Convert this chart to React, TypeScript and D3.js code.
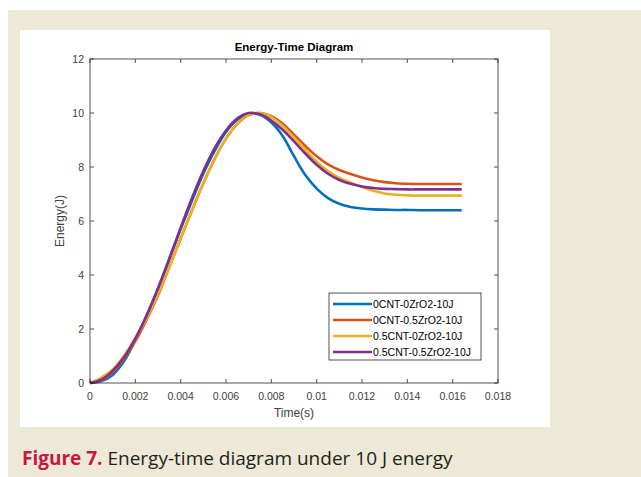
import React from 'react';
import * as d3 from 'd3';

// time samples (s)
const times = [0, 0.0005, 0.001, 0.0015, 0.002, 0.0025, 0.003, 0.0035, 0.004, 0.0045, 0.005, 0.0055, 0.006, 0.0065, 0.007, 0.0075, 0.008, 0.0085, 0.009, 0.0095, 0.01, 0.0105, 0.011, 0.0115, 0.012, 0.0125, 0.013, 0.0135, 0.014, 0.0145, 0.015, 0.0155, 0.016, 0.0164];

const blue = [0, 0.07, 0.3, 0.8, 1.6, 2.5, 3.5, 4.6, 5.7, 6.75, 7.75, 8.6, 9.3, 9.75, 9.98, 9.93, 9.65, 9.15, 8.4, 7.7, 7.2, 6.85, 6.64, 6.52, 6.46, 6.43, 6.42, 6.41, 6.41, 6.4, 6.4, 6.4, 6.4, 6.4];
const orange = [0, 0.1, 0.4, 0.9, 1.55, 2.35, 3.25, 4.3, 5.35, 6.4, 7.4, 8.3, 9.05, 9.6, 9.92, 10.0, 9.88, 9.6, 9.2, 8.78, 8.4, 8.1, 7.89, 7.74, 7.61, 7.51, 7.44, 7.4, 7.38, 7.37, 7.37, 7.37, 7.37, 7.37];
const yellow = [0, 0.2, 0.5, 1.0, 1.65, 2.4, 3.3, 4.3, 5.35, 6.4, 7.4, 8.3, 9.05, 9.6, 9.93, 10.0, 9.85, 9.52, 9.1, 8.64, 8.2, 7.85, 7.6, 7.42, 7.26, 7.12, 7.02, 6.97, 6.95, 6.94, 6.94, 6.94, 6.94, 6.94];
const purple = [0, 0.12, 0.45, 0.95, 1.65, 2.5, 3.5, 4.6, 5.75, 6.85, 7.85, 8.7, 9.35, 9.8, 10.0, 9.95, 9.72, 9.38, 8.95, 8.5, 8.08, 7.75, 7.52, 7.38, 7.28, 7.22, 7.19, 7.18, 7.17, 7.17, 7.17, 7.17, 7.17, 7.17];

const seriesNames = ['0CNT-0ZrO2-10J', '0CNT-0.5ZrO2-10J', '0.5CNT-0ZrO2-10J', '0.5CNT-0.5ZrO2-10J'];
const seriesValues = [blue, orange, yellow, purple];
const colors = ['#0072BD', '#D95319', '#EDB120', '#7E2F8E'];

const xTicks = [0, 0.002, 0.004, 0.006, 0.008, 0.01, 0.012, 0.014, 0.016, 0.018];
const yTicks = [0, 2, 4, 6, 8, 10, 12];

const W = 641;
const H = 477;
const plot = { left: 90, right: 498, top: 59, bottom: 383 };
const font = 'Liberation Sans, Arial, sans-serif';
const axisColor = '#262626';

export default function App() {
  const x = d3.scaleLinear().domain([0, 0.018]).range([plot.left, plot.right]);
  const y = d3.scaleLinear().domain([0, 12]).range([plot.bottom, plot.top]);

  const line = d3.line<[number, number]>()
    .x(d => x(d[0]))
    .y(d => y(d[1]))
    .curve(d3.curveCatmullRom.alpha(0.5));

  const tl = 4; // tick length, inward

  return (
    <svg width={W} height={H} viewBox={`0 0 ${W} ${H}`}
      style={{ position: 'absolute', left: 0, top: 0, display: 'block' }}>
      <rect x={0} y={0} width={W} height={H} fill="#fff" />
      <rect x={8} y={10} width={W - 8} height={H - 10} fill="#ecead6" />
      <rect x={20} y={30} width={530} height={397} fill="#fff" />

      {/* title */}
      <text x={(plot.left + plot.right) / 2} y={51} textAnchor="middle"
        fontFamily={font} fontSize={11.5} fontWeight="bold" fill="#000">Energy-Time Diagram</text>

      {/* curves */}
      {seriesValues.map((vals, i) => (
        <path key={i} d={line(times.map((t, j) => [t, vals[j]]))!} fill="none"
          stroke={colors[i]} strokeWidth={2.6} strokeLinejoin="round" />
      ))}

      {/* box */}
      <rect x={plot.left} y={plot.top} width={plot.right - plot.left} height={plot.bottom - plot.top}
        fill="none" stroke={axisColor} strokeWidth={0.8} />

      {/* x ticks */}
      {xTicks.map(t => (
        <g key={'x' + t}>
          <line x1={x(t)} x2={x(t)} y1={plot.bottom} y2={plot.bottom - tl} stroke={axisColor} strokeWidth={0.8} />
          <line x1={x(t)} x2={x(t)} y1={plot.top} y2={plot.top + tl} stroke={axisColor} strokeWidth={0.8} />
          <text x={x(t)} y={plot.bottom + 17} textAnchor="middle" fontFamily={font} fontSize={10.5}
            fill="#404040">{String(+t.toFixed(3))}</text>
        </g>
      ))}

      {/* y ticks */}
      {yTicks.map(v => (
        <g key={'y' + v}>
          <line x1={plot.left} x2={plot.left + tl} y1={y(v)} y2={y(v)} stroke={axisColor} strokeWidth={0.8} />
          <line x1={plot.right} x2={plot.right - tl} y1={y(v)} y2={y(v)} stroke={axisColor} strokeWidth={0.8} />
          <text x={plot.left - 6} y={y(v) + 4} textAnchor="end" fontFamily={font} fontSize={10.5}
            fill="#404040">{v}</text>
        </g>
      ))}

      {/* axis labels */}
      <text x={(plot.left + plot.right) / 2} y={417} textAnchor="middle" fontFamily={font} fontSize={12}
        fill="#404040">Time(s)</text>
      <text transform={`translate(64,${(plot.top + plot.bottom) / 2}) rotate(-90)`} textAnchor="middle"
        fontFamily={font} fontSize={12} fill="#404040">Energy(J)</text>

      {/* legend */}
      <g>
        <rect x={329} y={293} width={152} height={67} fill="#fff" stroke={axisColor} strokeWidth={0.8} />
        {seriesNames.map((name, i) => {
          const yy = 304 + i * 16;
          return (
            <g key={name}>
              <line x1={333} x2={372} y1={yy} y2={yy} stroke={colors[i]} strokeWidth={2.6} />
              <text x={373} y={yy + 3.8} fontFamily={font} fontSize={10.5} fill="#000">{name}</text>
            </g>
          );
        })}
      </g>

      {/* caption */}
      <text x={22} y={465} fontFamily="Open Sans, Liberation Sans, sans-serif" fontSize={19} fill="#231f20">
        <tspan fill="#c8173f" fontWeight="bold">Figure 7.</tspan>
        <tspan> Energy-time diagram under 10 J energy</tspan>
      </text>
    </svg>
  );
}
